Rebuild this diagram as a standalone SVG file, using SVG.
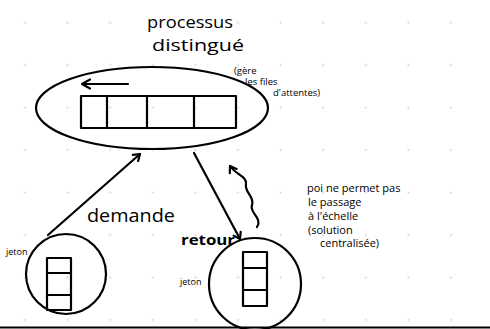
<svg xmlns="http://www.w3.org/2000/svg" width="490" height="329" viewBox="0 0 490 329">
  <style>
    .ink { fill: none; stroke: #000; stroke-width: 2.2; stroke-linecap: round; stroke-linejoin: round; }
    .txt { font-family: "Open Sans", "Liberation Sans", sans-serif; fill: #000; }
    .note { font-size: 9.5px; }
  </style>
  <defs>
    <pattern id="dots" patternUnits="userSpaceOnUse" x="3.7" y="1" width="42.6" height="42.5">
      <circle cx="21.3" cy="21.5" r="1" fill="#cfcfcf"/>
    </pattern>
    <marker id="head" viewBox="0 0 10 10" refX="9" refY="5" markerWidth="10" markerHeight="10" orient="auto" markerUnits="userSpaceOnUse" overflow="visible">
      <path d="M3,1 L9,5 L3,9" fill="none" stroke="#000" stroke-width="2.2" stroke-linecap="round" stroke-linejoin="round"/>
    </marker>
  </defs>

  <!-- dotted paper -->
  <rect width="490" height="329" fill="#fff"/>
  <rect width="490" height="329" fill="url(#dots)"/>

  <!-- title -->
  <text class="txt" x="147" y="28" font-size="17" textLength="86" lengthAdjust="spacingAndGlyphs">processus</text>
  <text class="txt" x="152" y="51" font-size="17" textLength="92" lengthAdjust="spacingAndGlyphs">distingué</text>

  <!-- central process with its queue -->
  <g id="central">
    <ellipse class="ink" cx="152" cy="108" rx="116" ry="41" fill="#fff"/>
    <rect class="ink" x="81" y="96" width="155" height="32"/>
    <path class="ink" d="M107,96 V128 M147,96 V128 M194,96 V128"/>
    <path class="ink" d="M128,84 H83 M90,79.5 L82,84 L90,88.5"/>
  </g>
  <text class="txt note" x="234" y="74" font-size="8.5">(gère</text>
  <text class="txt note" x="245" y="85">les files</text>
  <text class="txt note" x="273" y="96">d'attentes)</text>

  <!-- left token holder -->
  <g id="site-left">
    <circle class="ink" cx="66" cy="274" r="40"/>
    <rect class="ink" x="47" y="258" width="24" height="52"/>
    <path class="ink" d="M47,273 H71 M47,295 H71"/>
  </g>
  <text class="txt" x="6" y="255" font-size="9">jeton</text>

  <!-- right token holder -->
  <g id="site-right">
    <circle class="ink" cx="255" cy="284" r="46"/>
    <rect class="ink" x="243" y="252" width="24" height="54"/>
    <path class="ink" d="M243,268 H267 M243,290 H267"/>
  </g>
  <text class="txt" x="180" y="285" font-size="9">jeton</text>

  <!-- connectors -->
  <g id="connectors">
    <path class="ink" d="M48,235 L140,154" marker-end="url(#head)"/>
    <path class="ink" d="M194,153 L240,239" marker-end="url(#head)"/>
    <path class="ink" d="M257,227 C263,218 249,213 252,205 C255,197 244,192 246,184 C247,176 235,174 230,166" marker-end="url(#head)"/>
  </g>
  <text class="txt" x="87" y="222" font-size="19" textLength="88" lengthAdjust="spacingAndGlyphs">demande</text>
  <text class="txt" x="181" y="245" font-size="14" font-weight="bold" textLength="54" lengthAdjust="spacingAndGlyphs">retour</text>

  <!-- remark -->
  <text class="txt" font-size="11">
    <tspan x="307" y="192">poi ne permet pas</tspan>
    <tspan x="308" y="206">le passage</tspan>
    <tspan x="308" y="220">à l'échelle</tspan>
    <tspan x="308" y="234">(solution</tspan>
    <tspan x="320" y="247">centralisée)</tspan>
  </text>

  <!-- baseline -->
  <path d="M0,327.5 H490" stroke="#000" stroke-width="2"/>
</svg>
